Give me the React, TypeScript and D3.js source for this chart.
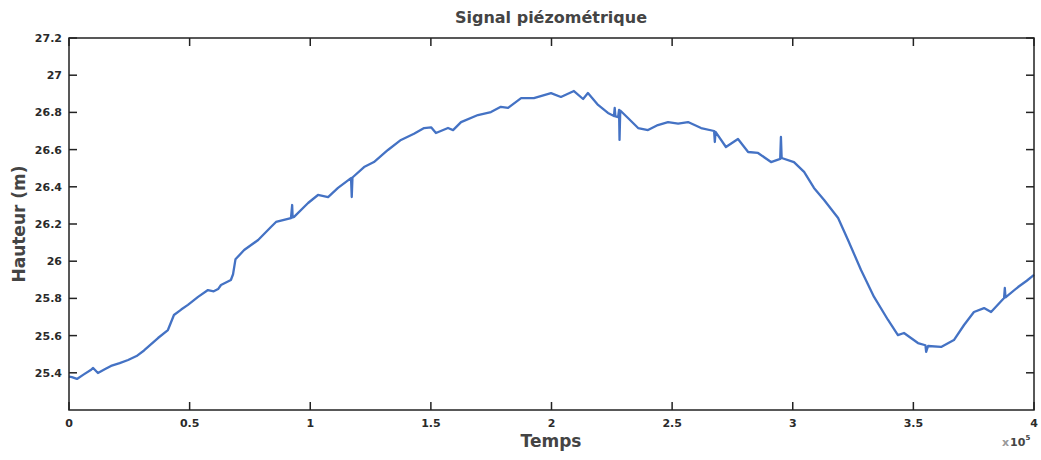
import React from "react";
import * as d3 from "d3";

// Time in units of 1e5, height in metres
const times: number[] = [
  0, 0.012, 0.033, 0.06, 0.09, 0.1, 0.12, 0.15, 0.174, 0.21, 0.245, 0.28, 0.311, 0.369, 0.41,
  0.435, 0.465, 0.493, 0.535, 0.576, 0.6, 0.618, 0.63, 0.671, 0.68, 0.69, 0.726, 0.784, 0.837,
  0.858, 0.92, 0.925, 0.927, 0.933, 0.991, 1.032, 1.074, 1.115, 1.169, 1.172, 1.175, 1.223,
  1.264, 1.322, 1.376, 1.43, 1.472, 1.501, 1.521, 1.571, 1.592, 1.625, 1.695, 1.749, 1.79,
  1.82, 1.874, 1.927, 1.998, 2.039, 2.093, 2.131, 2.151, 2.193, 2.234, 2.259, 2.262, 2.265,
  2.276, 2.28, 2.282, 2.285, 2.317, 2.359, 2.4, 2.441, 2.483, 2.525, 2.566, 2.62, 2.674, 2.677,
  2.68, 2.723, 2.773, 2.815, 2.856, 2.91, 2.948, 2.951, 2.954, 3.005, 3.047, 3.088, 3.13,
  3.188, 3.229, 3.283, 3.337, 3.395, 3.436, 3.461, 3.519, 3.55, 3.553, 3.561, 3.615, 3.668,
  3.71, 3.751, 3.793, 3.822, 3.876, 3.879, 3.882, 3.934, 3.97, 4.0,
];
const heights: number[] = [
  25.38, 25.377, 25.367, 25.39, 25.415, 25.426, 25.399, 25.42, 25.437, 25.452, 25.469, 25.49,
  25.52, 25.587, 25.63, 25.711, 25.74, 25.765, 25.808, 25.845, 25.838, 25.85, 25.872, 25.899,
  25.93, 26.01, 26.06, 26.114, 26.184, 26.211, 26.232, 26.302, 26.235, 26.238, 26.313,
  26.356, 26.345, 26.394, 26.447, 26.345, 26.45, 26.506, 26.533, 26.598, 26.652, 26.685,
  26.716, 26.72, 26.689, 26.716, 26.705, 26.748, 26.786, 26.802, 26.83, 26.824, 26.877,
  26.877, 26.904, 26.883, 26.915, 26.872, 26.904, 26.84, 26.797, 26.781, 26.824, 26.778,
  26.775, 26.813, 26.652, 26.81, 26.77, 26.716, 26.705, 26.732, 26.748, 26.74, 26.748,
  26.716, 26.7, 26.641, 26.695, 26.614, 26.657, 26.587, 26.582, 26.533, 26.55, 26.668,
  26.555, 26.533, 26.48, 26.394, 26.329, 26.232, 26.114, 25.953, 25.808, 25.684, 25.603,
  25.614, 25.56, 25.548, 25.512, 25.544, 25.539, 25.576, 25.657, 25.727, 25.748, 25.727,
  25.802, 25.856, 25.805, 25.861, 25.895, 25.926,
];
const xTicks: number[] = [0, 0.5, 1, 1.5, 2, 2.5, 3, 3.5, 4];
const yTicks: number[] = [25.4, 25.6, 25.8, 26, 26.2, 26.4, 26.6, 26.8, 27, 27.2];

const W = 1041;
const H = 460;
const M = { left: 69, right: 1034, top: 38, bottom: 410 };

export default function App() {
  const x = d3.scaleLinear().domain([0, 4]).range([M.left, M.right]);
  const y = d3.scaleLinear().domain([25.2, 27.2]).range([M.bottom, M.top]);
  const pts: [number, number][] = times.map((t, i) => [t, heights[i]]);
  const line = d3
    .line<[number, number]>()
    .x((d) => x(d[0]))
    .y((d) => y(d[1]));
  const tl = 8;
  const font = "'DejaVu Sans', 'Liberation Sans', Arial, sans-serif";
  const tickColor = "#2a2a2a";
  return (
    <svg
      width={W}
      height={H}
      style={{ position: "absolute", left: 0, top: 0, background: "#fff" }}
      fontFamily={font}
    >
      <rect x={0} y={0} width={W} height={H} fill="#fff" />
      <text x={551} y={23} textAnchor="middle" fontSize={16} fontWeight="bold" fill="#444">
        Signal piézométrique
      </text>
      <path d={line(pts) || ""} fill="none" stroke="#4472C4" strokeWidth={2.3} strokeLinejoin="round" />
      <rect
        x={M.left}
        y={M.top}
        width={M.right - M.left}
        height={M.bottom - M.top}
        fill="none"
        stroke="#222"
        strokeWidth={1.5}
      />
      {xTicks.map((t) => (
        <g key={"x" + t}>
          <line x1={x(t)} x2={x(t)} y1={M.bottom} y2={M.bottom - tl} stroke="#222" strokeWidth={1.5} />
          <line x1={x(t)} x2={x(t)} y1={M.top} y2={M.top + tl} stroke="#222" strokeWidth={1.5} />
          <text x={x(t)} y={427} textAnchor="middle" fontSize={11} fontWeight="bold" fill={tickColor}>
            {String(t)}
          </text>
        </g>
      ))}
      {yTicks.map((v) => (
        <g key={"y" + v}>
          <line x1={M.left} x2={M.left + tl} y1={y(v)} y2={y(v)} stroke="#222" strokeWidth={1.5} />
          <line x1={M.right} x2={M.right - tl} y1={y(v)} y2={y(v)} stroke="#222" strokeWidth={1.5} />
          <text x={62} y={y(v) + 4} textAnchor="end" fontSize={11} fontWeight="bold" fill={tickColor}>
            {String(+v.toFixed(1))}
          </text>
        </g>
      ))}
      <text x={551} y={447} textAnchor="middle" fontSize={17} fontWeight="bold" fill="#444">
        Temps
      </text>
      <text
        transform={`translate(25,${(M.top + M.bottom) / 2}) rotate(-90)`}
        textAnchor="middle"
        fontSize={17}
        fontWeight="bold"
        fill="#444"
      >
        Hauteur (m)
      </text>
      <text x={1002} y={446} fontSize={11} fontWeight="bold" fill="#444">
        <tspan fill="#999">x</tspan>
        <tspan dx={1}>10</tspan>
        <tspan dy={-6} fontSize={7}>5</tspan>
      </text>
    </svg>
  );
}
